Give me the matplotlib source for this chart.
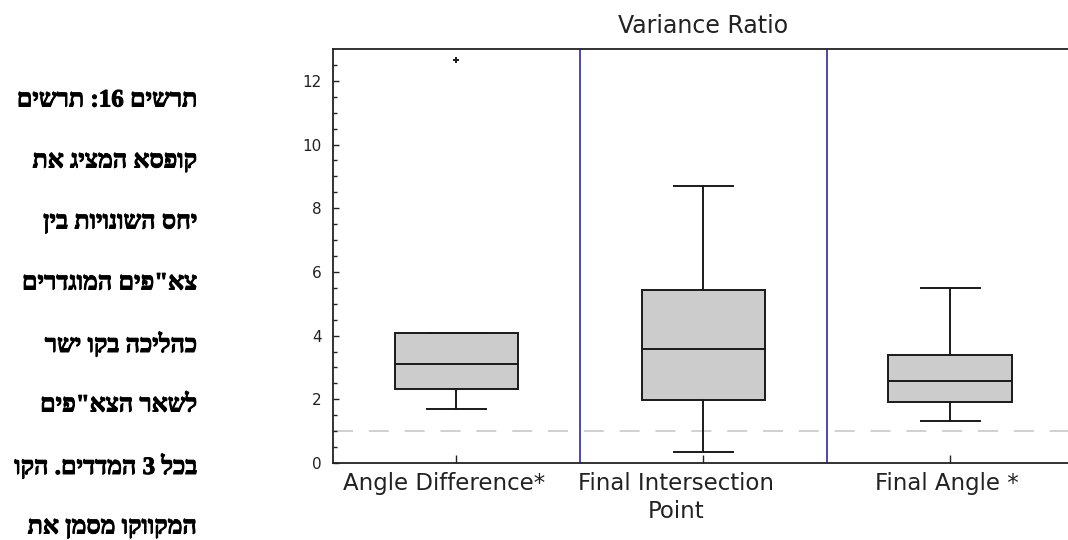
import re
import matplotlib
matplotlib.use("Agg")
import matplotlib.pyplot as plt
import matplotlib.patheffects as pe
from matplotlib.transforms import offset_copy

# variance ratio per measure (box statistics)
categories = ["Angle Difference*", "Final Intersection\nPoint", "Final Angle *"]
whislo = [1.68, 0.35, 1.32]
q1 = [2.32, 1.97, 1.90]
med = [3.10, 3.57, 2.58]
q3 = [4.07, 5.42, 3.40]
whishi = [4.07, 8.71, 5.49]
fliers = [[12.65], [], []]
ref_ratio = 1.0

caption = [
    "תרשים 16: תרשים",
    "קופסא המציג את",
    "יחס השונויות בין",
    'צא"פים המוגדרים',
    "כהליכה בקו ישר",
    'לשאר הצא"פים',
    "בכל 3 המדדים. הקו",
    "המקווקו מסמן את",
]


def rtl(s):
    # matplotlib has no bidi support: reverse, but keep digit runs left-to-right
    r = s[::-1]
    return re.sub(r"[0-9]+", lambda m: m.group(0)[::-1], r)


stats = []
for i in range(len(categories)):
    stats.append(dict(whislo=whislo[i], q1=q1[i], med=med[i], q3=q3[i],
                      whishi=whishi[i], fliers=fliers[i], label=""))

fig = plt.figure(figsize=(10.68, 5.40), dpi=100)
ax = fig.add_axes([0.3118, 0.1426, 0.6934, 0.7667])

pos = list(range(1, len(categories) + 1))
ax.bxp(stats, positions=pos, widths=0.5, patch_artist=True,
       boxprops=dict(facecolor="#cccccc", edgecolor="#1a1a1a", linewidth=1.4),
       medianprops=dict(color="#1a1a1a", linewidth=1.4),
       whiskerprops=dict(color="#1a1a1a", linewidth=1.4),
       capprops=dict(color="#1a1a1a", linewidth=1.4),
       capwidths=0.24,
       flierprops=dict(marker="+", markersize=4.5, markeredgewidth=1.4,
                       markeredgecolor="#1a1a1a"))

ax.axhline(ref_ratio, color="#c8c8c8", linewidth=1.2, dashes=(12, 9.5), zorder=1)
for p in pos[:-1]:
    ax.axvline(p + 0.5, color="#2b2ba0", linewidth=1.2, zorder=1)

ax.set_xlim(0.5, len(categories) + 0.5)
ax.set_ylim(0, 13)
ax.set_yticks(range(0, 13, 2))
ax.set_yticks([y * 0.5 for y in range(0, 26)], minor=True)
ax.tick_params(axis="y", which="major", direction="in", length=4, width=1,
               labelsize=11, pad=8, colors="#222222")
ax.tick_params(axis="y", which="minor", direction="in", length=3, width=1,
               colors="#222222")
ax.set_xticks(pos)
ax.set_xticklabels([])
ax.tick_params(axis="x", direction="in", length=6, width=1, colors="#222222")

# category names sit a little left of their boxes in the first two panels
shifts = [-12, -27, -3]
for p, name, dx in zip(pos, categories, shifts):
    tr = offset_copy(ax.get_xaxis_transform(), fig=fig, x=dx, y=-9, units="dots")
    ax.text(p, 0, name, transform=tr, ha="center", va="top", fontsize=16.5,
            family="DejaVu Sans", color="#222222", linespacing=1.3)

for side in ["left", "bottom", "top"]:
    ax.spines[side].set_color("#222222")
    ax.spines[side].set_linewidth(1.3)
ax.spines["right"].set_visible(False)

ax.set_title("Variance Ratio", family="DejaVu Sans", fontsize=17,
             color="#222222", pad=11.5)

for k, line in enumerate(caption):
    fig.text(0.1845, 1 - (100 + 61 * k) / 540, rtl(line), ha="right", va="center",
             fontsize=18, fontweight="bold",
             family=["Liberation Serif", "DejaVu Serif", "DejaVu Sans"],
             path_effects=[pe.withStroke(linewidth=0.7, foreground="black")])

fig.savefig("out.png", dpi=100)
